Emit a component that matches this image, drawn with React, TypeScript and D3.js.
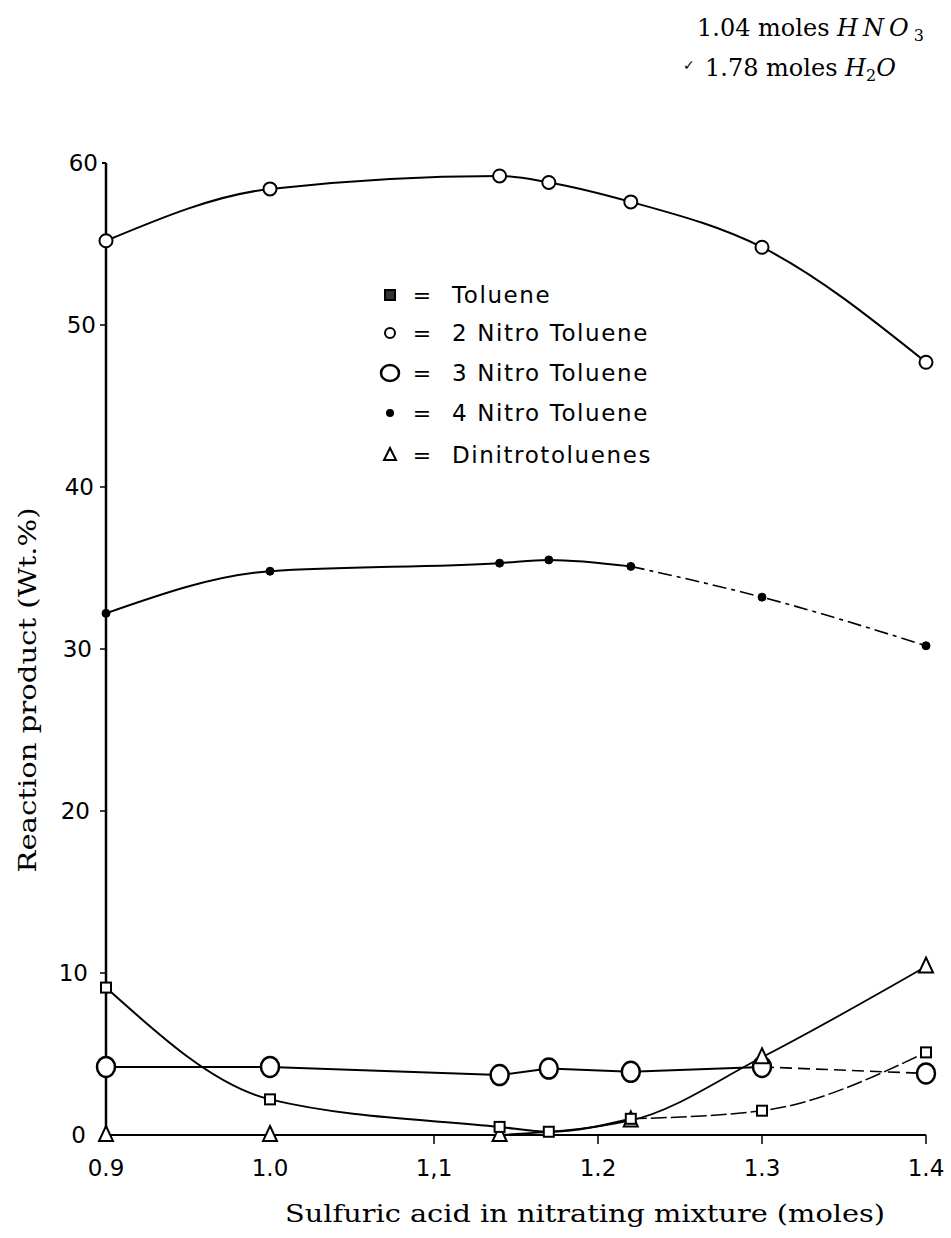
import React from "react";
import * as d3 from "d3";

// sulfuric acid (moles) at which samples were taken
const xVals = [0.9, 1.0, 1.14, 1.17, 1.22, 1.3, 1.4];
const toluene = [9.1, 2.2, 0.5, 0.2, 1.0, 1.5, 5.1];
const nitro2 = [55.2, 58.4, 59.2, 58.8, 57.6, 54.8, 47.7];
const nitro3 = [4.2, 4.2, 3.7, 4.1, 3.9, 4.2, 3.8];
const nitro4 = [32.2, 34.8, 35.3, 35.5, 35.1, 33.2, 30.2];
const dinitroX = [0.9, 1.0, 1.14, 1.22, 1.3, 1.4];
const dinitro = [0, 0, 0, 0.9, 4.8, 10.4];

const xTicks = [0.9, 1.0, 1.1, 1.2, 1.3, 1.4];
const xTickLabels = ["0.9", "1.0", "1,1", "1.2", "1.3", "1.4"];
const yTicks = [0, 10, 20, 30, 40, 50, 60];
const yTickLabels = ["0", "10", "20", "30", "40", "50", "60"];
const legendLabels = ["Toluene", "2 Nitro Toluene", "3 Nitro Toluene", "4 Nitro Toluene", "Dinitrotoluenes"];

const W = 951, H = 1238;
const sans = "DejaVu Sans";
const serif = "DejaVu Serif";

const x = d3.scaleLinear().domain([0.9, 1.4]).range([106, 926]);
const y = d3.scaleLinear().domain([0, 60]).range([1135, 163]);

type Pt = [number, number];
const pts = (xs: number[], ys: number[]): Pt[] => xs.map((v, i) => [v, ys[i]]);

const smooth = d3.line<Pt>().x(d => x(d[0])).y(d => y(d[1])).curve(d3.curveMonotoneX);
const straight = d3.line<Pt>().x(d => x(d[0])).y(d => y(d[1]));

const Square = ({cx, cy, filled}: {cx: number, cy: number, filled?: boolean}) =>
	<rect x={cx - 5} y={cy - 5} width={10} height={10} fill={filled ? "#333" : "white"} stroke="black" strokeWidth={2} />;
const Small = ({cx, cy}: {cx: number, cy: number}) =>
	<circle cx={cx} cy={cy} r={6.5} fill="white" stroke="black" strokeWidth={2} />;
const Big = ({cx, cy}: {cx: number, cy: number}) =>
	<ellipse cx={cx} cy={cy} rx={9} ry={10} fill="white" stroke="black" strokeWidth={2.5} />;
const Dot = ({cx, cy}: {cx: number, cy: number}) =>
	<circle cx={cx} cy={cy} r={4} fill="black" stroke="black" strokeWidth={1} />;
const Tri = ({cx, cy}: {cx: number, cy: number}) =>
	<path d={`M${cx},${cy - 9}L${cx + 7},${cy + 6}L${cx - 7},${cy + 6}Z`} fill="white" stroke="black" strokeWidth={2} />;

export default function App() {
	const t = pts(xVals, toluene);
	const n2 = pts(xVals, nitro2);
	const n3 = pts(xVals, nitro3);
	const n4 = pts(xVals, nitro4);
	const dn = pts(dinitroX, dinitro);
	const split = 4; // index of 1.22, where the lines become faint / dashed

	const legendY = [295, 333, 373, 413, 455];
	const legendMarks = [
		(cy: number) => <Square cx={390} cy={cy} filled />,
		(cy: number) => <circle cx={390} cy={cy} r={5} fill="white" stroke="black" strokeWidth={2} />,
		(cy: number) => <ellipse cx={390} cy={cy} rx={9} ry={8} fill="white" stroke="black" strokeWidth={2.5} />,
		(cy: number) => <circle cx={390} cy={cy} r={4} fill="black" />,
		(cy: number) => <path d={`M390,${cy - 7}L396,${cy + 5}L384,${cy + 5}Z`} fill="white" stroke="black" strokeWidth={2} />,
	];

	return (
		<svg width={W} height={H} style={{position: "absolute", left: 0, top: 0, background: "white"}}>
			{/* annotation */}
			<text x={697} y={36} fontFamily={serif} fontSize={24}>
				1.04 moles <tspan fontStyle="italic" letterSpacing={5}>HNO</tspan><tspan fontSize={16} dy={5}>3</tspan>
			</text>
			<text x={683} y={70} fontFamily={sans} fontSize={14}>✓</text>
			<text x={705} y={76} fontFamily={serif} fontSize={24}>
				1.78 moles <tspan fontStyle="italic">H</tspan><tspan fontSize={16} dy={5}>2</tspan><tspan fontStyle="italic" dy={-5}>O</tspan>
			</text>

			{/* axes */}
			<line x1={x(0.9)} x2={x(0.9)} y1={y(60)} y2={y(0)} stroke="black" strokeWidth={2.5} />
			<line x1={x(0.9) - 4} x2={x(0.9)} y1={y(60)} y2={y(60)} stroke="black" strokeWidth={2} />
			<line x1={x(0.9)} x2={x(1.4)} y1={y(0)} y2={y(0)} stroke="black" strokeWidth={2} />
			{yTicks.slice(1, 6).map(v =>
				<line key={v} x1={x(0.9) - 6} x2={x(0.9)} y1={y(v)} y2={y(v)} stroke="black" strokeWidth={1.5} />)}
			{xTicks.slice(2).map(v =>
				<line key={v} x1={x(v)} x2={x(v)} y1={y(0)} y2={y(0) + 9} stroke="black" strokeWidth={1.5} />)}
			{yTicks.map((v, i) =>
				<text key={v} x={x(0.9) - 8 - (6 - i) * 2} y={y(v)} dy="0.36em" textAnchor="end"
					fontFamily={sans} fontSize={23}>{yTickLabels[i]}</text>)}
			{xTicks.map((v, i) =>
				<text key={v} x={x(v)} y={1176} textAnchor="middle" fontFamily={sans} fontSize={23}>{xTickLabels[i]}</text>)}
			<text x={585} y={1222} textAnchor="middle" fontFamily={serif} fontSize={24}
				textLength={600} lengthAdjust="spacingAndGlyphs">Sulfuric acid in nitrating mixture (moles)</text>
			<text transform="translate(36,690) rotate(-90)" textAnchor="middle" fontFamily={serif} fontSize={24}
				textLength={365} lengthAdjust="spacingAndGlyphs">Reaction product (Wt.%)</text>

			{/* lines */}
			<g fill="none" stroke="black">
				<path d={smooth(n2)!} strokeWidth={2} />
				<path d={smooth(n4.slice(0, split + 1))!} strokeWidth={2} />
				<path d={smooth(n4.slice(split))!} strokeWidth={1.6} strokeDasharray="14 5 4 5" />
				<path d={straight(n3.slice(0, 6))!} strokeWidth={2} />
				<path d={straight(n3.slice(5))!} strokeWidth={1.6} strokeDasharray="12 6" />
				<path d={smooth(t.slice(0, split + 1))!} strokeWidth={2} />
				<path d={smooth(t.slice(split))!} strokeWidth={1.5} strokeDasharray="16 4" />
				<path d={smooth(dn.slice(2))!} strokeWidth={1.8} />
			</g>

			{/* markers */}
			{n3.map((d, i) => <Big key={"b" + i} cx={x(d[0])} cy={y(d[1])} />)}
			{dn.map((d, i) => <Tri key={"t" + i} cx={x(d[0])} cy={y(d[1])} />)}
			{t.map((d, i) => <Square key={"s" + i} cx={x(d[0])} cy={y(d[1])} />)}
			{n2.map((d, i) => <Small key={"c" + i} cx={x(d[0])} cy={y(d[1])} />)}
			{n4.map((d, i) => <Dot key={"d" + i} cx={x(d[0])} cy={y(d[1])} />)}

			{/* legend */}
			{legendLabels.map((l, i) => (
				<g key={l}>
					{legendMarks[i](legendY[i])}
					<text x={422} y={legendY[i]} dy="0.35em" textAnchor="middle" fontFamily={sans} fontSize={22}>=</text>
					<text x={452} y={legendY[i]} dy="0.36em" fontFamily={sans} fontSize={23} letterSpacing={1.6}>{l}</text>
				</g>
			))}
		</svg>
	);
}
